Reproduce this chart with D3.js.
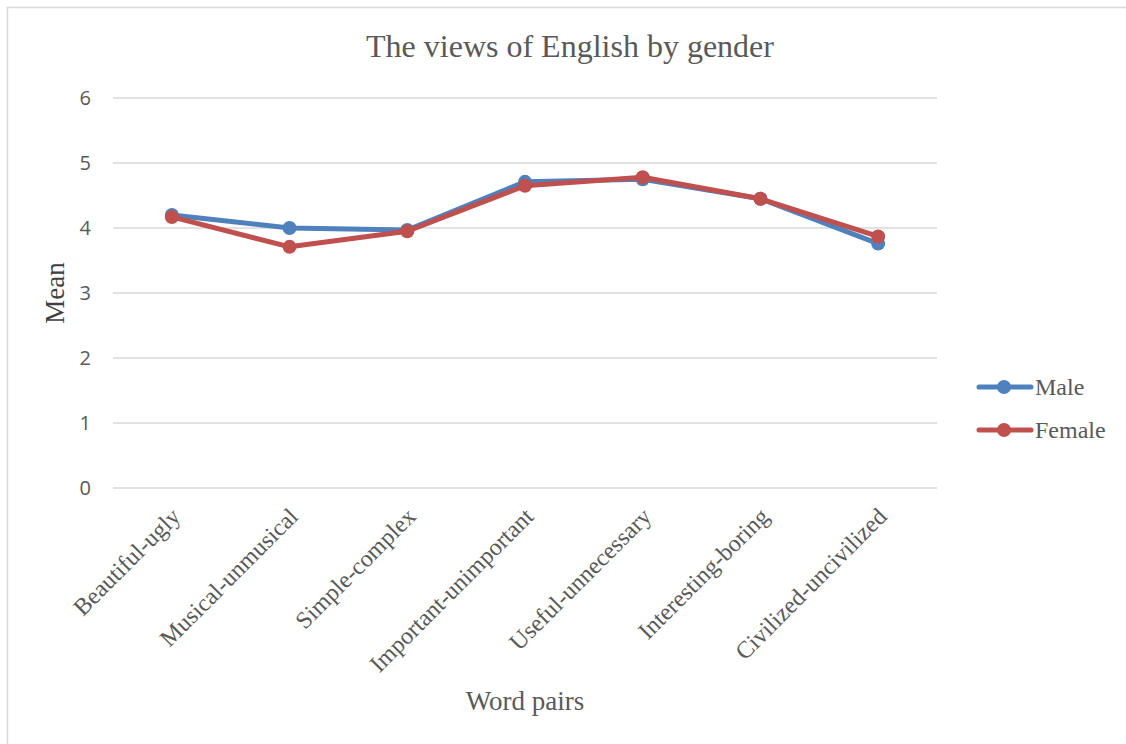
<!DOCTYPE html>
<html><head><meta charset="utf-8">
<script src="https://cdn.jsdelivr.net/npm/d3@7"></script>
<style>body{margin:0;background:#fff}svg{display:block}</style>
</head><body>
<svg id="c" width="1126" height="744"></svg>
<script>
const categories = ["Beautiful-ugly","Musical-unmusical","Simple-complex","Important-unimportant","Useful-unnecessary","Interesting-boring","Civilized-uncivilized"];
const maleValues = [4.20, 4.00, 3.97, 4.71, 4.75, 4.45, 3.76];
const femaleValues = [4.17, 3.71, 3.95, 4.65, 4.78, 4.45, 3.87];
const yTicks = [0,1,2,3,4,5,6];
const seriesNames = ["Male","Female"];
const seriesColors = ["#4f81bd","#c0504d"];

const svg = d3.select("#c");
const m = {left:113, right:937, top:98, bottom:488};
svg.append("rect").attr("x",7.5).attr("y",7.5).attr("width",1130).attr("height",760)
  .attr("fill","#fff").attr("stroke","#d9d9d9").attr("stroke-width",1.5);

const x = d3.scaleBand().domain(categories).range([m.left,m.right]);
const y = d3.scaleLinear().domain([0,6]).range([m.bottom,m.top]);

// gridlines
svg.append("g").selectAll("line").data(yTicks).join("line")
  .attr("x1",m.left).attr("x2",m.right)
  .attr("y1",d=>y(d)).attr("y2",d=>y(d))
  .attr("stroke","#d9d9d9").attr("stroke-width",1.5);

const yAxis = svg.append("g").attr("transform",`translate(${m.left},0)`)
  .call(d3.axisLeft(y).tickValues(yTicks).tickFormat(d3.format("d")).tickSize(0).tickPadding(22));
yAxis.select(".domain").remove();
yAxis.selectAll("text").attr("font-family","'Open Sans', sans-serif").attr("font-size",20).attr("fill","#595959");

const xAxis = svg.append("g").attr("transform",`translate(0,${m.bottom})`)
  .call(d3.axisBottom(x).tickSize(0).tickPadding(0));
xAxis.select(".domain").remove();
xAxis.selectAll("text")
  .attr("font-family","'Liberation Serif', 'Times New Roman', serif").attr("font-size",24).attr("fill","#595959")
  .attr("text-anchor","end").attr("dy",0).attr("y",0)
  .attr("transform","translate(10,30) rotate(-45)");

const series = [maleValues, femaleValues];
const line = d3.line().x((d,i)=>x(categories[i])+x.bandwidth()/2).y(d=>y(d));
series.forEach((vals,k)=>{
  const g = svg.append("g");
  g.append("path").datum(vals).attr("d",line).attr("fill","none")
    .attr("stroke",seriesColors[k]).attr("stroke-width",5).attr("stroke-linejoin","round").attr("stroke-linecap","round");
  g.selectAll("circle").data(vals).join("circle")
    .attr("cx",(d,i)=>x(categories[i])+x.bandwidth()/2).attr("cy",d=>y(d)).attr("r",7)
    .attr("fill",seriesColors[k]);
});

// title
svg.append("text").attr("x",570).attr("y",57).attr("text-anchor","middle")
  .attr("font-family","'Liberation Serif', serif").attr("font-size",32).attr("fill","#595959")
  .text("The views of English by gender");
svg.append("text").attr("transform","translate(64,293) rotate(-90)").attr("text-anchor","middle")
  .attr("font-family","'Liberation Serif', serif").attr("font-size",27).attr("fill","#404040").text("Mean");
svg.append("text").attr("x",525).attr("y",710).attr("text-anchor","middle")
  .attr("font-family","'Liberation Serif', serif").attr("font-size",27).attr("fill","#595959").text("Word pairs");

// legend
const leg = svg.append("g");
seriesNames.forEach((n,k)=>{
  const ly = 387 + k*43;
  leg.append("line").attr("x1",979).attr("x2",1031).attr("y1",ly).attr("y2",ly)
    .attr("stroke",seriesColors[k]).attr("stroke-width",5).attr("stroke-linecap","round");
  leg.append("circle").attr("cx",1004).attr("cy",ly).attr("r",7).attr("fill",seriesColors[k]);
  leg.append("text").attr("x",1035).attr("y",ly+8).attr("font-family","'Liberation Serif', serif")
    .attr("font-size",24).attr("fill","#595959").text(n);
});
</script>
</body></html>
